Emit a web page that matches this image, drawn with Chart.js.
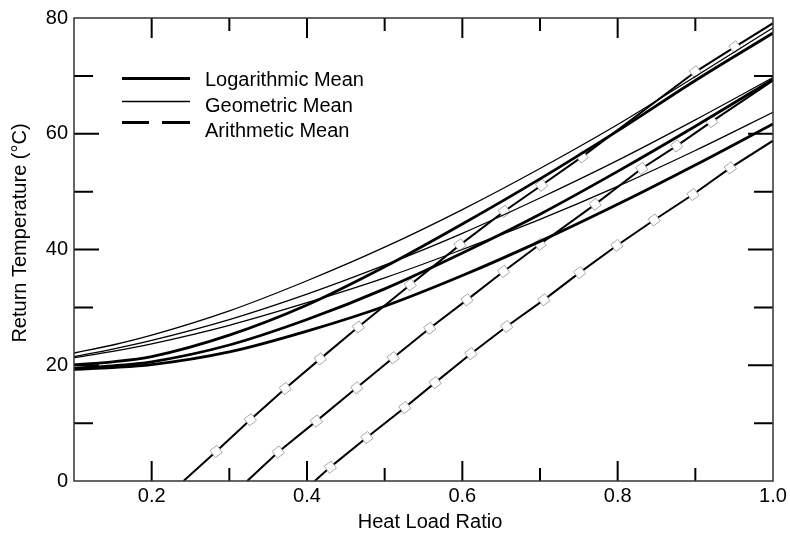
<!DOCTYPE html>
<html><head><meta charset="utf-8">
<script src="https://cdn.jsdelivr.net/npm/chart.js@4.4.1/dist/chart.umd.min.js"></script>
<style>html,body{margin:0;padding:0;background:#fff;}#wrap{width:790px;height:535px;}</style>
</head><body>
<div id="wrap"><canvas id="c" width="790" height="535"></canvas></div>
<script>
// ---- data ----
const xCurve = [0.1, 0.15, 0.2, 0.3, 0.4, 0.5, 0.6, 0.7, 0.8, 0.9, 1.0];
const geoA = [22.1, 23.5, 25.2, 29.4, 34.6, 40.4, 46.9, 54.0, 61.6, 69.9, 78.3];
const geoB = [21.5, 22.8, 24.3, 27.9, 32.3, 37.3, 42.8, 48.9, 55.4, 62.4, 69.7];
const geoC = [21.3, 22.4, 23.7, 26.9, 30.8, 35.1, 40.0, 45.2, 50.9, 57.1, 63.7];
const logA = [20.1, 20.6, 21.5, 25.2, 30.4, 37.0, 44.4, 52.2, 60.5, 69.2, 77.4];
const logB = [19.5, 19.9, 20.6, 23.5, 27.9, 33.2, 39.4, 46.1, 53.5, 61.3, 69.4];
const logC = [19.3, 19.6, 20.1, 22.3, 25.9, 30.2, 35.5, 41.4, 47.8, 54.6, 61.7];

const arith1X = [0.241, 0.283, 0.327, 0.372, 0.417, 0.466, 0.533, 0.597, 0.654, 0.702, 0.754, 0.900, 0.951, 1.0];
const arith1Y = [0, 5.1, 10.6, 16.0, 21.1, 26.6, 33.9, 40.8, 46.6, 51.1, 56.0, 70.7, 75.0, 79.1];
const arith2X = [0.323, 0.363, 0.412, 0.464, 0.511, 0.558, 0.606, 0.653, 0.700, 0.771, 0.831, 0.876, 0.921, 1.0];
const arith2Y = [0, 5.0, 10.35, 16.1, 21.3, 26.4, 31.3, 36.2, 40.9, 47.8, 54.0, 57.9, 62.1, 69.2];
const arith3X = [0.410, 0.430, 0.477, 0.526, 0.565, 0.611, 0.657, 0.705, 0.751, 0.799, 0.847, 0.897, 0.945, 1.0];
const arith3Y = [0, 2.4, 7.5, 12.7, 17.0, 22.0, 26.7, 31.3, 36.0, 40.7, 45.1, 49.5, 54.1, 58.8];

const xTickLabels = ['0.2', '0.4', '0.6', '0.8', '1.0'];
const xMinorTicks = [0.3, 0.5, 0.7, 0.9];
const yTickLabels = ['0', '20', '40', '60', '80'];
const yMinorTicks = [10, 30, 50, 70];
const legendLabels = ['Logarithmic Mean', 'Geometric Mean', 'Arithmetic Mean'];
const xTitle = 'Heat Load Ratio';
const yTitle = 'Return Temperature (\u00B0C)';

// ---- chart ----
const FONT = '"Liberation Sans", Arial, Helvetica, sans-serif';
const xTickVals = xTickLabels.map(Number);
const yTickVals = yTickLabels.map(Number);
function pts(xs, ys) { return xs.map((x, i) => ({ x: x, y: ys[i] })); }

function curve(ys, w) {
  return { data: pts(xCurve, ys), borderColor: '#000', borderWidth: w, pointRadius: 0,
    cubicInterpolationMode: 'monotone', fill: false };
}
function arith(xs, ys) {
  return { data: pts(xs, ys), borderColor: '#000', borderWidth: 2, tension: 0, fill: false,
    pointStyle: 'rect', pointRotation: -37,
    pointRadius: (c) => (c.dataIndex === 0 || c.dataIndex === c.dataset.data.length - 1) ? 0 : 6.2,
    pointBackgroundColor: '#fff', pointBorderColor: '#a9a9a9', pointBorderWidth: 1 };
}

const framePlugin = {
  id: 'frame',
  afterDatasetsDraw(chart) {
    const { ctx, chartArea: a, scales: { x, y } } = chart;
    ctx.save();
    ctx.strokeStyle = '#000';
    ctx.lineWidth = 2;
    ctx.beginPath();
    const xt = (vals, len) => vals.forEach(v => {
      if (v <= x.min || v >= x.max) return;
      const p = x.getPixelForValue(v);
      ctx.moveTo(p, a.bottom); ctx.lineTo(p, a.bottom - len);
      ctx.moveTo(p, a.top); ctx.lineTo(p, a.top + len);
    });
    const yt = (vals, len) => vals.forEach(v => {
      if (v <= y.min || v >= y.max) return;
      const p = y.getPixelForValue(v);
      ctx.moveTo(a.left, p); ctx.lineTo(a.left + len, p);
      ctx.moveTo(a.right, p); ctx.lineTo(a.right - len, p);
    });
    xt(xTickVals, 20); xt(xMinorTicks, 13);
    yt(yTickVals, 25); yt(yMinorTicks, 19);
    ctx.stroke();
    ctx.strokeStyle = '#333';
    ctx.lineWidth = 1.5;
    ctx.strokeRect(a.left, a.top, a.width, a.height);

    // legend
    ctx.strokeStyle = '#000';
    ctx.lineWidth = 3;
    ctx.beginPath(); ctx.moveTo(122, 78.5); ctx.lineTo(190, 78.5); ctx.stroke();
    ctx.lineWidth = 1.5;
    ctx.beginPath(); ctx.moveTo(122, 101.5); ctx.lineTo(190, 101.5); ctx.stroke();
    ctx.lineWidth = 3;
    ctx.beginPath(); ctx.moveTo(122, 122.5); ctx.lineTo(149, 122.5);
    ctx.moveTo(162, 122.5); ctx.lineTo(190, 122.5); ctx.stroke();
    ctx.fillStyle = '#000';
    ctx.font = '20px ' + FONT;
    ctx.textAlign = 'left';
    ctx.textBaseline = 'alphabetic';
    ctx.fillText(legendLabels[0], 205, 86);
    ctx.fillText(legendLabels[1], 205, 111.5);
    ctx.fillText(legendLabels[2], 205, 136.5);

    // axis titles
    ctx.textAlign = 'center';
    ctx.textBaseline = 'middle';
    ctx.fillText(xTitle, 430, 522);
    ctx.translate(20.5, 233);
    ctx.rotate(-Math.PI / 2);
    ctx.fillText(yTitle, 0, 0);
    ctx.restore();
  }
};

new Chart(document.getElementById('c'), {
  type: 'line',
  data: {
    datasets: [
      curve(geoA, 1.3), curve(geoB, 1.3), curve(geoC, 1.3),
      curve(logA, 2.8), curve(logB, 2.8), curve(logC, 2.8),
      arith(arith1X, arith1Y), arith(arith2X, arith2Y), arith(arith3X, arith3Y)
    ]
  },
  options: {
    responsive: false,
    animation: false,
    events: [],
    layout: { padding: { left: 0, right: 17, top: 15, bottom: 0 } },
    plugins: { legend: { display: false }, tooltip: { enabled: false } },
    scales: {
      x: {
        type: 'linear', min: 0.1, max: 1.0,
        grid: { display: false, drawTicks: false }, border: { display: false },
        afterBuildTicks: (s) => { s.ticks = xTickVals.map(v => ({ value: v })); },
        afterFit: (s) => { s.height = 54; },
        ticks: { padding: 3, color: '#000', font: { size: 20, family: FONT },
          maxRotation: 0, autoSkip: false,
          callback: (v) => xTickLabels[xTickVals.indexOf(Math.round(v * 10) / 10)] }
      },
      y: {
        type: 'linear', min: 0, max: 80,
        grid: { display: false, drawTicks: false }, border: { display: false },
        afterBuildTicks: (s) => { s.ticks = yTickVals.map(v => ({ value: v })); },
        afterFit: (s) => { s.width = 74; },
        ticks: { padding: 6, color: '#000', font: { size: 20, family: FONT },
          callback: (v) => yTickLabels[yTickVals.indexOf(v)] }
      }
    }
  },
  plugins: [framePlugin]
});
</script>
</body></html>
